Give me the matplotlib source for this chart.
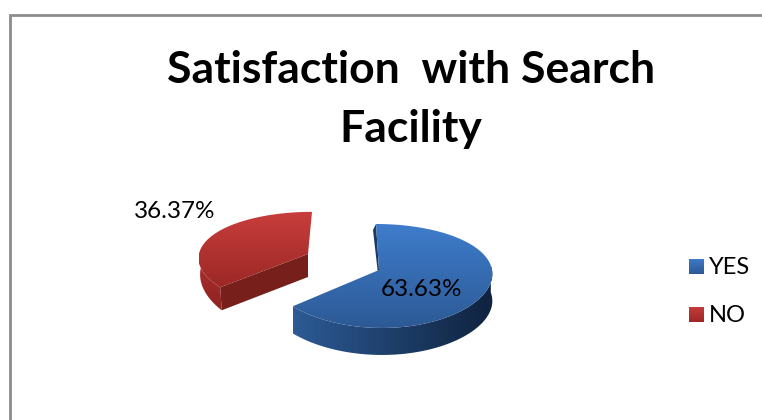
import matplotlib
matplotlib.use("Agg")
import matplotlib.pyplot as plt
import numpy as np
from matplotlib.colors import LinearSegmentedColormap
from matplotlib.patches import Polygon

labels = ["YES", "NO"]
values = [63.63, 36.37]
title = "Satisfaction  with Search\nFacility"

plt.rcParams['font.family'] = ['Lato', 'DejaVu Sans']

W, H = 762, 420
fig = plt.figure(figsize=(W / 100, H / 100), dpi=100)
ax = fig.add_axes([0, 0, 1, 1])


def grad(poly, c0, c1, horizontal=False):
    # fill a polygon with a two colour gradient
    xs, ys = poly[:, 0], poly[:, 1]
    g = np.linspace(0, 1, 64)
    g = g.reshape(1, -1) if horizontal else g.reshape(-1, 1)
    cmap = LinearSegmentedColormap.from_list("g", [c0, c1])
    im = ax.imshow(g, cmap=cmap, aspect="auto", origin="upper", zorder=2,
                   extent=(xs.min(), xs.max(), ys.max(), ys.min()))
    patch = Polygon(poly, closed=True, fc="none", ec="none", transform=ax.transData)
    ax.add_patch(patch)
    im.set_clip_path(patch)


K = 0.115


def proj(theta, apex, lean, rx, ry):
    # theta in degrees clockwise from 12 o'clock
    t = np.radians(theta)
    sx, sy = np.sin(t), np.cos(t)
    return np.column_stack([apex[0] + rx * sx / (1 + 0.05 * sy) + lean * sy,
                            apex[1] - ry * sy / (1 + K * sy)])


angles = np.cumsum([0] + values) * 360 / sum(values)

# YES slice
a0, a1 = angles[0], angles[1]
apex = (379, 270)
depth = 27
rim = proj(np.linspace(a0, a1, 120), apex, -3, 113, 51.3)
top = np.vstack([[apex], rim])
side_top = proj(np.linspace(max(a0, 85), a1, 120), apex, -3, 113, 51.3)
side = np.vstack([side_top, (side_top + [0, depth])[::-1]])
grad(side, "#2C5A94", "#10233F", horizontal=True)
edge = np.array([rim[0], apex, [apex[0] - 1, apex[1] + 4], rim[0] + [-3, 6]])
ax.add_patch(Polygon(edge, closed=True, fc="#1B3A63", ec="none", zorder=2))
grad(top, "#3E7CCB", "#2D5A96")

# NO slice
a0, a1 = angles[1], angles[2]
apex = (308, 254)
depth = 23
rim = proj(np.linspace(a0, a1, 80), apex, 4, 109, 47)
top = np.vstack([[apex], rim])
side_top = proj(np.linspace(a0, 272, 40), apex, 4, 109, 47)
taper = np.linspace(depth, 15, len(side_top)).reshape(-1, 1)
side_low = side_top + np.hstack([np.full_like(taper, 1.5), taper])
side = np.vstack([side_top, side_low[::-1]])
grad(side, "#B03230", "#8E2320")
p = rim[0]
face = np.array([apex, p, p + [1.5, depth], [apex[0], apex[1] + depth]])
ax.add_patch(Polygon(face, closed=True, fc="#761F1B", ec="none", zorder=2))
grad(top, "#C83E3C", "#9C2826")

# frame
ax.plot([10, 10, W], [H, 15, 15], color="#8C8C8C", lw=2, solid_joinstyle="miter", zorder=3)

# texts
ax.text(411, 70, title.split("\n")[0], ha="center", va="center", fontsize=32, fontweight="bold", zorder=4)
ax.text(411, 129, title.split("\n")[1], ha="center", va="center", fontsize=32, fontweight="bold", zorder=4)
ax.text(421, 289, "%.2f%%" % values[0], ha="center", va="center", fontsize=17.5, zorder=4)
ax.text(175, 212, "%.2f%%" % values[1], ha="center", va="center", fontsize=17.5, zorder=4)

# legend
leg_cols = [("#3E7CCB", "#2D5A96"), ("#C83E3C", "#9C2826")]
for i, lab in enumerate(labels):
    y = 259 + i * 48
    sq = np.array([[689, y], [704, y], [704, y + 15.5], [689, y + 15.5]])
    grad(sq, leg_cols[i][0], leg_cols[i][1])
    ax.text(709, y + 9, lab, ha="left", va="center", fontsize=17, zorder=4)

ax.set_xlim(0, W)
ax.set_ylim(H, 0)
ax.axis("off")
fig.savefig("out.png", dpi=100)
